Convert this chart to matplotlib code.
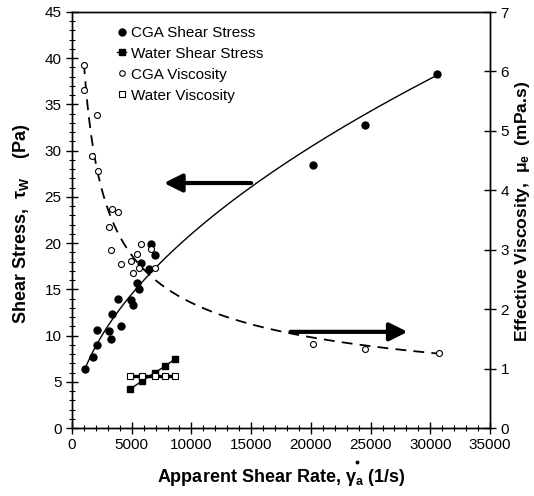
import numpy as np
import matplotlib
matplotlib.use("Agg")
import matplotlib.pyplot as plt
from matplotlib.ticker import MultipleLocator

plt.rcParams['font.family'] = ['Liberation Sans', 'DejaVu Sans']
plt.rcParams['mathtext.fontset'] = 'custom'
plt.rcParams['mathtext.rm'] = 'Liberation Sans:bold'
plt.rcParams['mathtext.it'] = 'Liberation Sans:bold'
plt.rcParams['mathtext.bf'] = 'Liberation Sans:bold'

# CGA shear stress (Pa) vs apparent shear rate (1/s)
cga_rate = [1090, 1730, 2120, 2070, 3100, 3240, 3380, 4080, 3880, 4940, 5110,
            5420, 5580, 5750, 6420, 6620, 6980, 20150, 24540, 30570]
cga_stress = [6.4, 7.7, 9.0, 10.6, 10.5, 9.6, 12.3, 11.0, 14.0, 13.8, 13.3,
              15.7, 15.0, 17.8, 17.2, 19.9, 18.7, 28.5, 32.8, 38.3]

# CGA effective viscosity (mPa.s)
cgav_rate = [1005, 1030, 2070, 1700, 2200, 3320, 3880, 3100, 3240, 4080, 5780,
             5420, 4940, 5140, 5610, 6620, 6980, 20150, 24540, 30740]
cgav_visc = [6.10, 5.69, 5.26, 4.58, 4.32, 3.68, 3.63, 3.38, 3.00, 2.76, 3.09,
             2.93, 2.81, 2.60, 2.70, 3.01, 2.70, 1.41, 1.33, 1.26]

# Water
water_rate = [4860, 5890, 6950, 7810, 8660]
water_stress = [4.2, 5.1, 6.0, 6.7, 7.5]
water_visc = [0.87, 0.87, 0.87, 0.87, 0.87]

# Power-law fits (log-log least squares)
ps = np.polyfit(np.log(cga_rate), np.log(cga_stress), 1)
pv = np.polyfit(np.log(cgav_rate), np.log(cgav_visc), 1)
gfit = np.linspace(1000, 30570, 300)
stress_fit = np.exp(np.polyval(ps, np.log(gfit)))
gvfit = np.linspace(1000, 30740, 300)
visc_fit = np.exp(np.polyval(pv, np.log(gvfit)))

fig = plt.figure(figsize=(5.34, 4.96), dpi=100)
ax = fig.add_axes([72/534, 1-428/496, (490-72)/534, (428-12)/496])
ax2 = ax.twinx()

ax.plot(gfit, stress_fit, color='black', lw=1.0, zorder=2)
ax.plot(cga_rate, cga_stress, 'o', color='black', ms=5, ls='none',
        label='CGA Shear Stress', zorder=3)
ax.plot(water_rate, water_stress, 's', color='black', ms=5, ls='-', lw=1.0,
        label='Water Shear Stress', zorder=3)
# empty handles so the legend lists all four series in one block
h_cv, = ax.plot([], [], 'o', mfc='white', mec='black', ms=4, mew=0.8,
                ls='none', label='CGA Viscosity')
h_wv, = ax.plot([], [], 's', mfc='white', mec='black', ms=4.5, mew=0.8,
                ls='none', label='Water Viscosity')

ax2.plot(gvfit, visc_fit, color='black', lw=1.3, ls=(0, (6, 4)), zorder=2)
ax2.plot(cgav_rate, cgav_visc, 'o', mfc='white', mec='black', ms=4.3, mew=0.8,
         ls='none', zorder=3)
ax2.plot(water_rate, water_visc, 's', mfc='white', mec='black', ms=5, mew=0.8,
         color='black', ls='-', lw=2.5, zorder=3)

# direction arrows
ax.annotate('', xy=(7700, 26.5), xytext=(15000, 26.5),
            arrowprops=dict(arrowstyle='-|>,head_length=0.9,head_width=0.45',
                            lw=3, color='black', shrinkA=0, shrinkB=0,
                            mutation_scale=12))
ax.annotate('', xy=(28100, 10.4), xytext=(18300, 10.4),
            arrowprops=dict(arrowstyle='-|>,head_length=0.9,head_width=0.45',
                            lw=3, color='black', shrinkA=0, shrinkB=0,
                            mutation_scale=12))

ax.set_xlim(0, 35000)
ax.set_ylim(0, 45)
ax2.set_ylim(0, 7)
ax.xaxis.set_major_locator(MultipleLocator(5000))
ax.xaxis.set_minor_locator(MultipleLocator(1000))
ax.yaxis.set_major_locator(MultipleLocator(5))
ax.yaxis.set_minor_locator(MultipleLocator(1))
ax2.yaxis.set_major_locator(MultipleLocator(1))

ax.tick_params(axis='both', which='major', direction='inout', length=8,
               width=1, labelsize=11, top=False)
ax.tick_params(axis='both', which='minor', direction='inout', length=5,
               width=0.8)
ax2.tick_params(axis='y', which='major', direction='inout', length=8,
                width=1, labelsize=11)
for a in (ax, ax2):
    for s in a.spines.values():
        s.set_linewidth(1.0)

ax.set_xlabel(r'Apparent Shear Rate, $\gamma_a$ (1/s)', fontsize=13,
              fontweight='bold')
ax.set_ylabel(r'Shear Stress,  $\tau_W$    (Pa)', fontsize=13,
              fontweight='bold')
ax2.set_ylabel(r'Effective Viscosity,  $\mu_e$  (mPa.s)', fontsize=12.6,
               fontweight='bold', rotation=90)
ax.xaxis.set_label_coords(0.5, -50/416, transform=ax.transAxes)
ax.yaxis.set_label_coords(-50/418, 0.49)
ax2.yaxis.set_label_coords(1 + 32/418, 0.52)
ax2.yaxis.label.set_va('center')
ax.yaxis.label.set_va('center')
ax.xaxis.label.set_va('center')
# overdot of the shear-rate symbol
ax.plot([23900], [-3.7], 'o', color='black', ms=1.8, clip_on=False)

ax.legend(loc='upper left', bbox_to_anchor=(0.09, 0.985), frameon=False,
          fontsize=11, handlelength=0.6, handletextpad=0.3,
          labelspacing=0.45, borderpad=0)

fig.savefig('out.png', dpi=100)
